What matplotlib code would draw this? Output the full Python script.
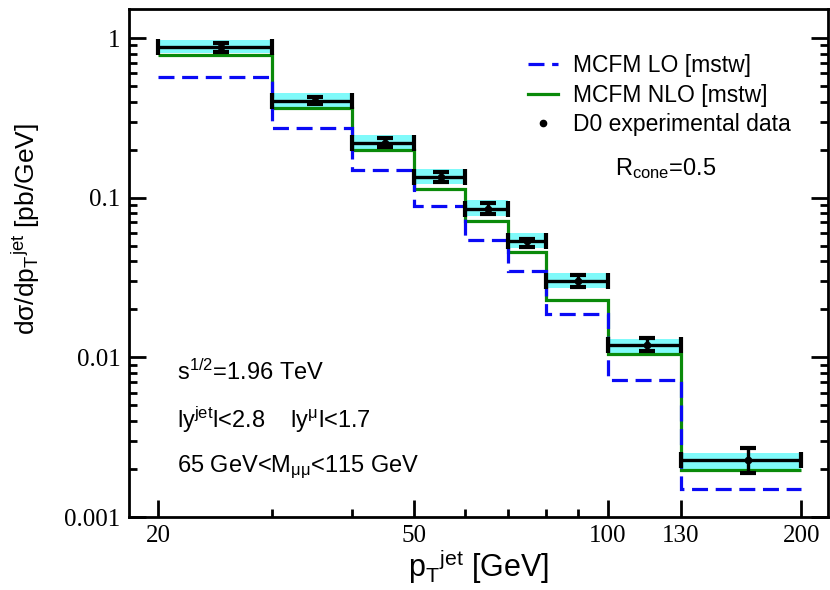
import numpy as np
import matplotlib
matplotlib.use("Agg")
from matplotlib import pyplot as plt
from matplotlib.ticker import FixedLocator, NullFormatter, LogLocator

# bins in pT(jet) [GeV]
edges = [20, 30, 40, 50, 60, 70, 80, 100, 130, 200]
x_data = [25, 35, 45, 55, 65, 75, 90, 115, 165]

lo_vals = [0.569, 0.274, 0.150, 0.0889, 0.0542, 0.0346, 0.0186, 0.00718, 0.00150]
nlo_vals = [0.782, 0.366, 0.199, 0.114, 0.0716, 0.0457, 0.0228, 0.0105, 0.00196]

d0_vals = [0.878, 0.404, 0.221, 0.135, 0.0855, 0.0533, 0.0302, 0.0120, 0.00226]
d0_hi = [0.934, 0.425, 0.235, 0.145, 0.0927, 0.0555, 0.0330, 0.0132, 0.00270]
d0_lo = [0.813, 0.386, 0.208, 0.126, 0.0796, 0.0492, 0.0276, 0.0110, 0.00188]

band_hi = [0.972, 0.450, 0.247, 0.151, 0.0965, 0.0601, 0.0338, 0.0131, 0.00251]
band_lo = [0.805, 0.369, 0.201, 0.121, 0.0766, 0.0481, 0.0273, 0.0107, 0.00200]

sans = "Liberation Sans"
serif = "Liberation Serif"
plt.rcParams["mathtext.fontset"] = "custom"
plt.rcParams["mathtext.rm"] = sans
plt.rcParams["mathtext.it"] = sans
plt.rcParams["mathtext.default"] = "regular"

fig = plt.figure(figsize=(8.3, 5.9), dpi=100)
ax = fig.add_axes([0.1554, 0.1237, 0.8422, 0.861])
ax.set_xscale("log")
ax.set_yscale("log")

# cyan band of the data
for i in range(len(x_data)):
    ax.fill_between([edges[i], edges[i + 1]], band_lo[i], band_hi[i],
                    color="#80fafa", lw=0, zorder=1)

ax.stairs(lo_vals, edges, baseline=None, color="#0a0af5", lw=2.3,
          linestyle=(0, (5, 2.4)), zorder=3, label="MCFM LO [mstw]")
ax.stairs(nlo_vals, edges, baseline=None, color="#0a8a0a", lw=2.3,
          zorder=2, label="MCFM NLO [mstw]")

x = np.array(x_data)
e = np.array(edges)
xerr = [x - e[:-1], e[1:] - x]
y = np.array(d0_vals)
yerr = [y - np.array(d0_lo), np.array(d0_hi) - y]
ax.errorbar(x, y, xerr=xerr, yerr=yerr, fmt="o", color="black", ms=4.5,
            elinewidth=2.4, capsize=5.5, capthick=3, zorder=4)
ax.plot([], [], "o", color="black", ms=4.5, label="D0 experimental data")

ax.set_xlim(18, 220)
ax.set_ylim(0.001, 1.52)

ax.xaxis.set_major_locator(FixedLocator([20, 50, 100, 130, 200]))
ax.xaxis.set_minor_locator(FixedLocator([30, 40, 60, 70, 80, 90]))
ax.set_xticklabels(["20", "50", "100", "130", "200"], fontfamily=serif, fontsize=18)
ax.xaxis.set_minor_formatter(NullFormatter())

ax.yaxis.set_major_locator(FixedLocator([0.001, 0.01, 0.1, 1]))
ax.yaxis.set_minor_locator(LogLocator(base=10, subs=np.arange(2, 10)))
ax.set_yticklabels(["0.001", "0.01", "0.1", "1"], fontfamily=serif, fontsize=18)
ax.yaxis.set_minor_formatter(NullFormatter())

ax.tick_params(which="both", direction="in", right=True, top=False, width=2)
ax.tick_params(which="major", length=12, pad=6)
ax.tick_params(which="minor", length=6)
for s in ax.spines.values():
    s.set_linewidth(2)

ax.set_xlabel("p$_{T}$$^{jet}$ [GeV]", fontfamily=sans, fontsize=22, labelpad=0)
ax.set_ylabel("dσ/dp$_{T}$$^{jet}$ [pb/GeV]", fontfamily=sans, fontsize=19)
ax.yaxis.set_label_coords(-0.125, 0.567)

leg = ax.legend(loc="upper left", bbox_to_anchor=(0.571, 0.912), frameon=False,
                prop={"family": sans, "size": 16.5}, handlelength=1.3,
                handletextpad=0.65, labelspacing=0.3, borderaxespad=0,
                borderpad=0)

tkw = dict(transform=ax.transAxes, fontfamily=sans, fontsize=17, va="baseline")
ax.text(0.695, 0.673, "R$_{cone}$=0.5", **tkw)
ax.text(0.068, 0.270, "s$^{1/2}$=1.96 TeV", **tkw)
ax.text(0.068, 0.175, "ly$^{jet}$l<2.8    ly$^{μ}$l<1.7", **tkw)
ax.text(0.068, 0.0886, "65 GeV<M$_{μμ}$<115 GeV", **tkw)

fig.savefig("out.png", dpi=100)
